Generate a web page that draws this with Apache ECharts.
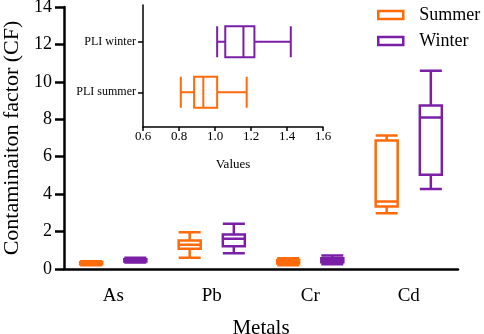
<!DOCTYPE html>
<html>
<head>
<meta charset="utf-8">
<script src="https://cdn.jsdelivr.net/npm/echarts@6/dist/echarts.min.js"></script>
<style>
html, body { margin: 0; padding: 0; background: #fff; }
#chart { width: 484px; height: 334px; }
</style>
</head>
<body>
<div id="chart"></div>
<script>
// main chart: contamination factor per metal, [min, Q1, median, Q3, max]
let metals = ['As', 'Pb', 'Cr', 'Cd'];
let summerCF = [
    [0.20, 0.25, 0.30, 0.36, 0.42],
    [0.60, 1.08, 1.29, 1.52, 1.97],
    [0.20, 0.30, 0.38, 0.48, 0.58],
    [2.98, 3.34, 3.61, 6.87, 7.14]
];
let winterCF = [
    [0.35, 0.40, 0.45, 0.52, 0.60],
    [0.84, 1.22, 1.61, 1.84, 2.42],
    [0.25, 0.36, 0.48, 0.58, 0.72],
    [4.28, 5.03, 8.09, 8.73, 10.6]
];

// inset: pollution load index
let pliCats = ['PLI summer', 'PLI winter'];
let pliSummer = [0.81, 0.884, 0.935, 1.012, 1.176];
let pliWinter = [1.012, 1.057, 1.158, 1.219, 1.421];
let pliTicks = [0.6, 0.8, 1.0, 1.2, 1.4, 1.6];

let orange = '#FF6A0A';
let purple = '#7A1FA6';
let font = 'Liberation Serif';

let myChart = echarts.init(document.getElementById('chart'));

let option = {
    animation: false,
    textStyle: { fontFamily: font, color: '#000' },
    legend: {
        orient: 'vertical',
        left: 377,
        top: 6,
        padding: 0,
        itemWidth: 25,
        itemHeight: 8,
        itemGap: 8,
        icon: 'rect',
        textStyle: { fontFamily: font, fontSize: 18, color: '#000', padding: [0, 0, 0, 11] },
        data: [
            { name: 'Summer', itemStyle: { color: '#fff', borderColor: orange, borderWidth: 2.5 } },
            { name: 'Winter', itemStyle: { color: '#fff', borderColor: purple, borderWidth: 2.5 } }
        ]
    },
    grid: [
        { left: 64, right: 26, top: 7, bottom: 65, outerBoundsMode: 'none' },
        { left: 143, right: 161, top: 5, bottom: 207, outerBoundsMode: 'none' }
    ],
    xAxis: [
        {
            gridIndex: 0,
            type: 'category',
            data: metals,
            name: 'Metals',
            nameLocation: 'middle',
            nameGap: 49,
            nameTextStyle: { fontFamily: font, fontSize: 21, color: '#000' },
            axisLine: { lineStyle: { color: '#000', width: 2.5 } },
            axisTick: { alignWithLabel: true, length: 10, lineStyle: { color: '#000', width: 2.5 } },
            axisLabel: { fontFamily: font, fontSize: 19, color: '#000', margin: 18 }
        },
        {
            gridIndex: 1,
            type: 'value',
            min: 0.6,
            max: 1.6,
            interval: 0.2,
            name: 'Values',
            nameLocation: 'middle',
            nameGap: 31,
            nameTextStyle: { fontFamily: font, fontSize: 13, color: '#000' },
            splitLine: { show: false },
            axisLine: { show: true, lineStyle: { color: '#000', width: 1.5 } },
            axisTick: { show: true, length: 4, lineStyle: { color: '#000', width: 1.5 } },
            axisLabel: {
                fontFamily: font, fontSize: 13, color: '#000', margin: 3,
                customValues: pliTicks,
                formatter: v => v.toFixed(1)
            }
        }
    ],
    yAxis: [
        {
            gridIndex: 0,
            type: 'value',
            min: 0,
            max: 14,
            interval: 2,
            name: 'Contaminaiton factor (CF)',
            nameLocation: 'middle',
            nameGap: 40,
            nameTextStyle: { fontFamily: font, fontSize: 22, color: '#000' },
            splitLine: { show: false },
            axisLine: { show: true, lineStyle: { color: '#000', width: 2.5 } },
            axisTick: { show: true, length: 9, lineStyle: { color: '#000', width: 2.5 } },
            axisLabel: { fontFamily: font, fontSize: 18, color: '#000', margin: 12 }
        },
        {
            gridIndex: 1,
            type: 'value',
            min: 0.314,
            max: 2.725,
            splitLine: { show: false },
            axisLine: { show: true, lineStyle: { color: '#000', width: 1.5 } },
            axisTick: { show: true, length: 5, customValues: [1, 2], lineStyle: { color: '#000', width: 1.5 } },
            axisLabel: {
                fontFamily: font, fontSize: 12, color: '#000', margin: 7,
                customValues: [1, 2],
                formatter: v => pliCats[Math.round(v) - 1]
            }
        }
    ],
    series: [
        {
            name: 'Summer',
            type: 'boxplot',
            xAxisIndex: 0,
            yAxisIndex: 0,
            boxWidth: [22, 22],
            itemStyle: { color: '#fff', borderColor: orange, borderWidth: 2.5 },
            data: summerCF
        },
        {
            name: 'Winter',
            type: 'boxplot',
            xAxisIndex: 0,
            yAxisIndex: 0,
            boxWidth: [22, 22],
            itemStyle: { color: '#fff', borderColor: purple, borderWidth: 2.5 },
            data: winterCF
        },
        {
            name: 'PLI',
            type: 'boxplot',
            layout: 'vertical',
            xAxisIndex: 1,
            yAxisIndex: 1,
            boxWidth: [31, 31],
            itemStyle: { color: '#fff', borderWidth: 2 },
            data: [
                { value: [1].concat(pliSummer), itemStyle: { borderColor: orange } },
                { value: [2].concat(pliWinter), itemStyle: { borderColor: purple } }
            ]
        }
    ]
};

myChart.setOption(option);
</script>
</body>
</html>
